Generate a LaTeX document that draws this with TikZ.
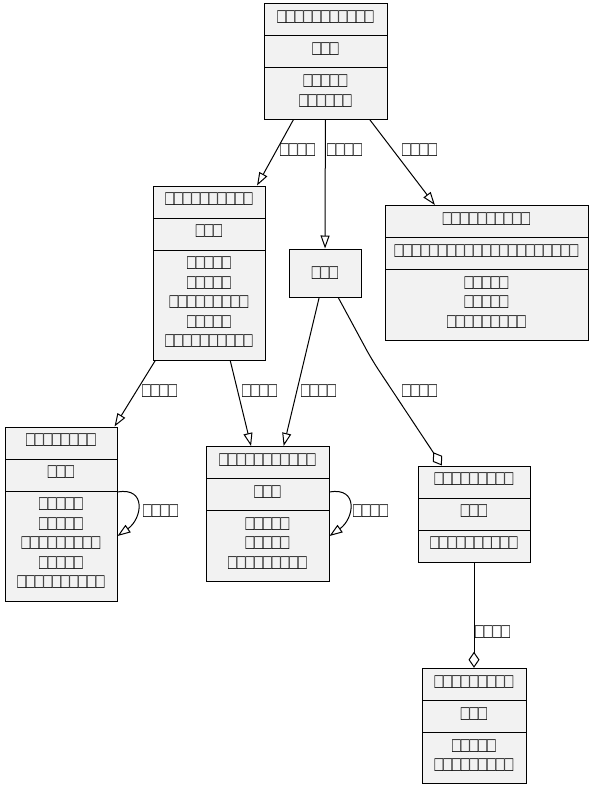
\documentclass[tikz,border=0pt]{standalone}
\usepackage{fontspec}
\setmainfont{DejaVu Sans}
\newfontfamily\tofufont[FakeStretch=0.68]{Liberation Sans}
\usetikzlibrary{shapes.multipart,arrows.meta}
\begin{document}
\begin{tikzpicture}[x=1pt,y=-1pt,
  cls/.style={rectangle split,rectangle split parts=3,draw=black,fill=color0,line width=1pt,
    inner xsep=0pt,inner ysep=5.75pt,align=center,font=\tofufont\fontsize{21.3}{19.5}\selectfont},
  single/.style={draw=black,fill=color0,line width=1pt,inner sep=0pt,font=\tofufont\fontsize{21.3}{19.5}\selectfont},
  lbl/.style={anchor=west,inner sep=0pt,font=\tofufont\fontsize{21.3}{19.5}\selectfont},
  gen/.style={line width=1pt,-{Triangle[open,length=13pt,width=9pt]}},
  agg/.style={line width=1pt,-{Diamond[open,length=16pt,width=11pt]}}]
\definecolor{color0}{HTML}{F2F2F2}
\useasboundingbox[fill=white] (0,0) rectangle (593,788);
% classes
\node[cls,text width=123pt] (A) at (325.5,61.5) {\strut □□□□□□□□□□□\nodepart{two}\strut □□□\nodepart{three}\strut □□□□□\\□□□□□□\strut};
\node[cls,text width=112pt] (B) at (209,273) {\strut □□□□□□□□□□\nodepart{two}\strut □□□\nodepart{three}\strut □□□□□\\□□□□□\\□□□□□□□□□\\□□□□□\\□□□□□□□□□□\strut};
\node[cls,text width=203pt] (C) at (486.5,273) {\strut □□□□□□□□□□\nodepart{two}\strut □□□□□□□□□□□□□□□□□□□□□\nodepart{three}\strut □□□□□\\□□□□□\\□□□□□□□□□\strut};
\node[single,minimum width=72pt,minimum height=48pt] (D) at (325,273) {□□□};
\node[cls,text width=112pt] (E) at (61,514) {\strut □□□□□□□□\nodepart{two}\strut □□□\nodepart{three}\strut □□□□□\\□□□□□\\□□□□□□□□□\\□□□□□\\□□□□□□□□□□\strut};
\node[cls,text width=123pt] (F) at (267.5,514) {\strut □□□□□□□□□□□\nodepart{two}\strut □□□\nodepart{three}\strut □□□□□\\□□□□□\\□□□□□□□□□\strut};
\node[cls,text width=112pt] (G) at (474,514) {\strut □□□□□□□□□\nodepart{two}\strut □□□\nodepart{three}\strut □□□□□□□□□□\strut};
\node[cls,text width=104pt] (H) at (474,726) {\strut □□□□□□□□□\nodepart{two}\strut □□□\nodepart{three}\strut □□□□□\\□□□□□□□□□\strut};
% relations
\coordinate (bendDG) at (372,360);
\draw[gen] (A) -- (B);
\draw[gen] (A) -- (D);
\draw[gen] (A) -- (C);
\draw[gen] (B) -- (E);
\draw[gen] (B) -- (F);
\draw[gen] (D) -- (F);
\draw[agg,rounded corners=12pt] (D) -- (bendDG) -- (G);
\draw[gen] ([yshift=22pt]E.east) to[out=10,in=35,distance=30pt] ([yshift=-22pt]E.east);
\draw[gen] ([yshift=22pt]F.east) to[out=10,in=35,distance=30pt] ([yshift=-22pt]F.east);
\draw[agg] (G) -- (H);
% labels
\node[lbl] (lAB) at (280,150) {□□□□};
\node[lbl] (lAD) at (327,150) {□□□□};
\node[lbl] (lAC) at (402,150) {□□□□};
\node[lbl] (lBE) at (142,391) {□□□□};
\node[lbl] (lBF) at (242,391) {□□□□};
\node[lbl] (lDF) at (301,391) {□□□□};
\node[lbl] (lDG) at (402,391) {□□□□};
\node[lbl] (lEE) at (143,511) {□□□□};
\node[lbl] (lFF) at (353,511) {□□□□};
\node[lbl] (lGH) at (475,632) {□□□□};
\end{tikzpicture}
\end{document}
